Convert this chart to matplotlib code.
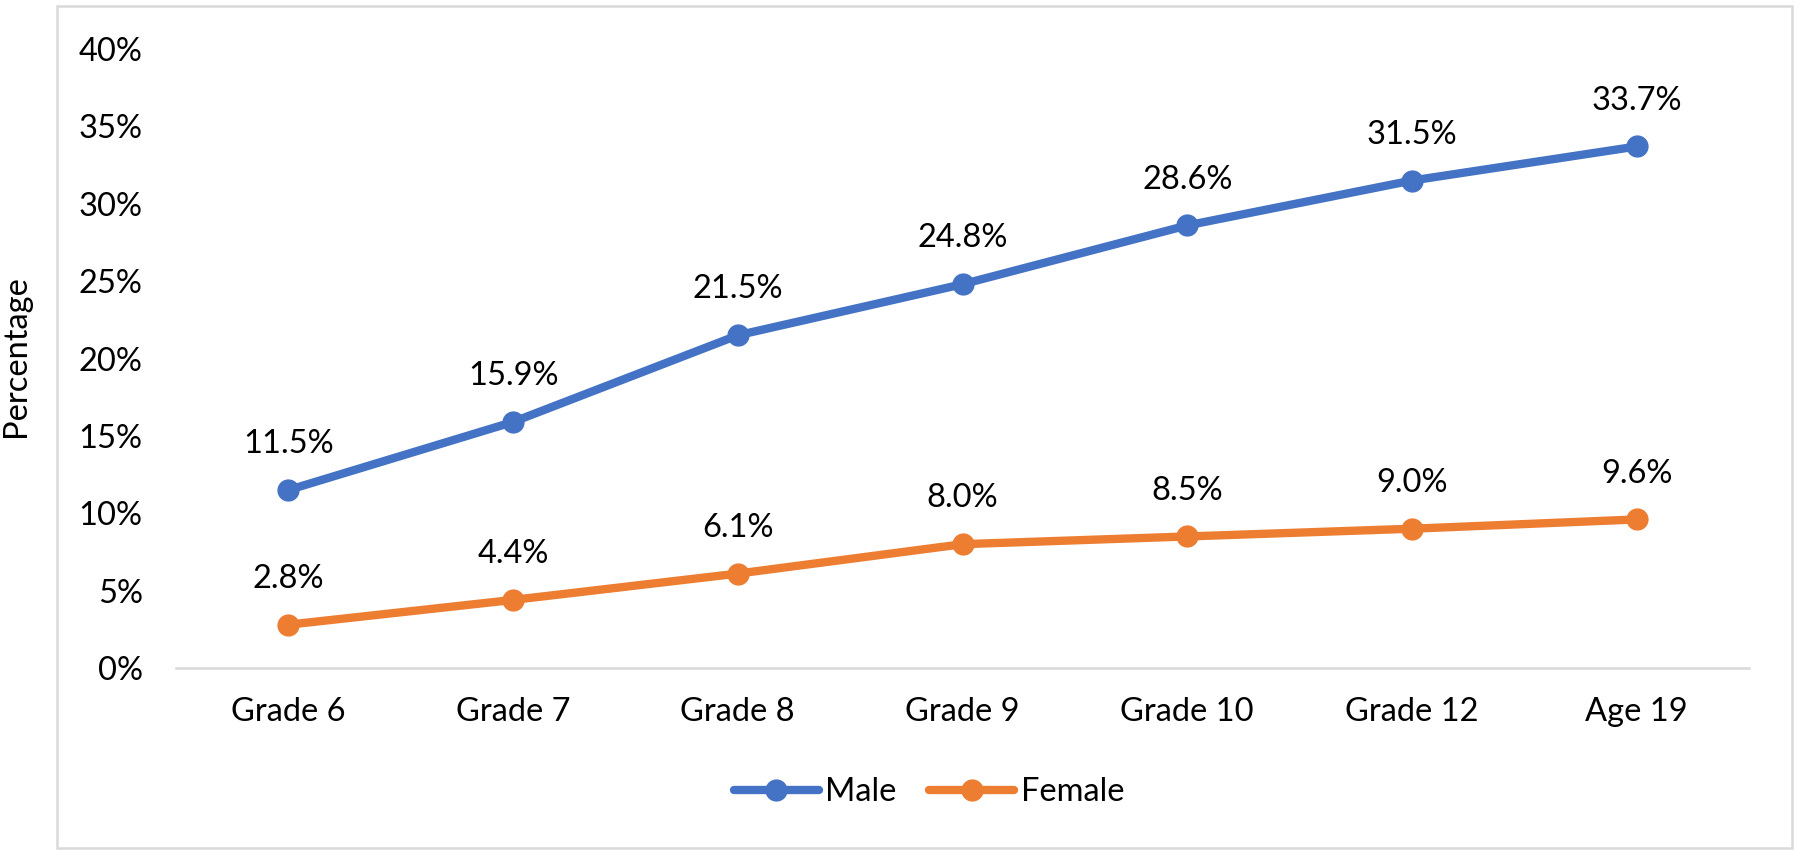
import matplotlib.pyplot as plt
from matplotlib.patches import Rectangle

# data
categories = ['Grade 6', 'Grade 7', 'Grade 8', 'Grade 9', 'Grade 10', 'Grade 12', 'Age 19']
male = [11.5, 15.9, 21.5, 24.8, 28.6, 31.5, 33.7]
female = [2.8, 4.4, 6.1, 8.0, 8.5, 9.0, 9.6]
yticks = [0, 5, 10, 15, 20, 25, 30, 35, 40]

plt.rcParams['font.family'] = ['Lato', 'DejaVu Sans']
FS = 23.5

fig = plt.figure(figsize=(18, 8.55), dpi=100)
ax = fig.add_axes([176/1800, 1-668/855, (1749-176)/1800, (668-49)/855])

x = list(range(len(categories)))
for vals, col, name in [(male, '#4472C4', 'Male'), (female, '#ED7D31', 'Female')]:
    ax.plot(x, vals, color=col, lw=6, marker='o', ms=15, label=name,
            solid_capstyle='round')
    for xi, v in zip(x, vals):
        ax.annotate(f'{v:.1f}%', (xi, v), xytext=(0, 33), textcoords='offset points',
                    ha='center', va='center', fontsize=FS, color='black')

ax.set_xlim(-0.5, len(categories) - 0.5)
ax.set_ylim(0, 40)
ax.set_xticks(x)
ax.set_xticklabels(categories, fontsize=FS)
ax.set_yticks(yticks)
ax.set_yticklabels([f'{t}%' for t in yticks], fontsize=FS)
ax.tick_params(axis='both', length=0)
ax.tick_params(axis='y', pad=24)
ax.tick_params(axis='x', pad=21)
for s in ['top', 'right', 'left']:
    ax.spines[s].set_visible(False)
ax.spines['bottom'].set_color('#d9d9d9')
ax.spines['bottom'].set_linewidth(1.8)

fig.text(16/1800, 1-356/855, 'Percentage', rotation=90, ha='center', va='center', fontsize=FS)

leg = fig.legend(loc='center', bbox_to_anchor=(929/1800, 1-792/855), ncol=2, frameon=False,
                 fontsize=FS, handlelength=2.6, handletextpad=0.2, columnspacing=1.0)

# outer chart border
fig.patches.append(Rectangle((57/1800, 1-848/855), (1792-57)/1800, (848-6)/855,
                             transform=fig.transFigure, fill=False,
                             edgecolor='#d9d9d9', lw=1.8))

fig.savefig('out.png', dpi=100)
